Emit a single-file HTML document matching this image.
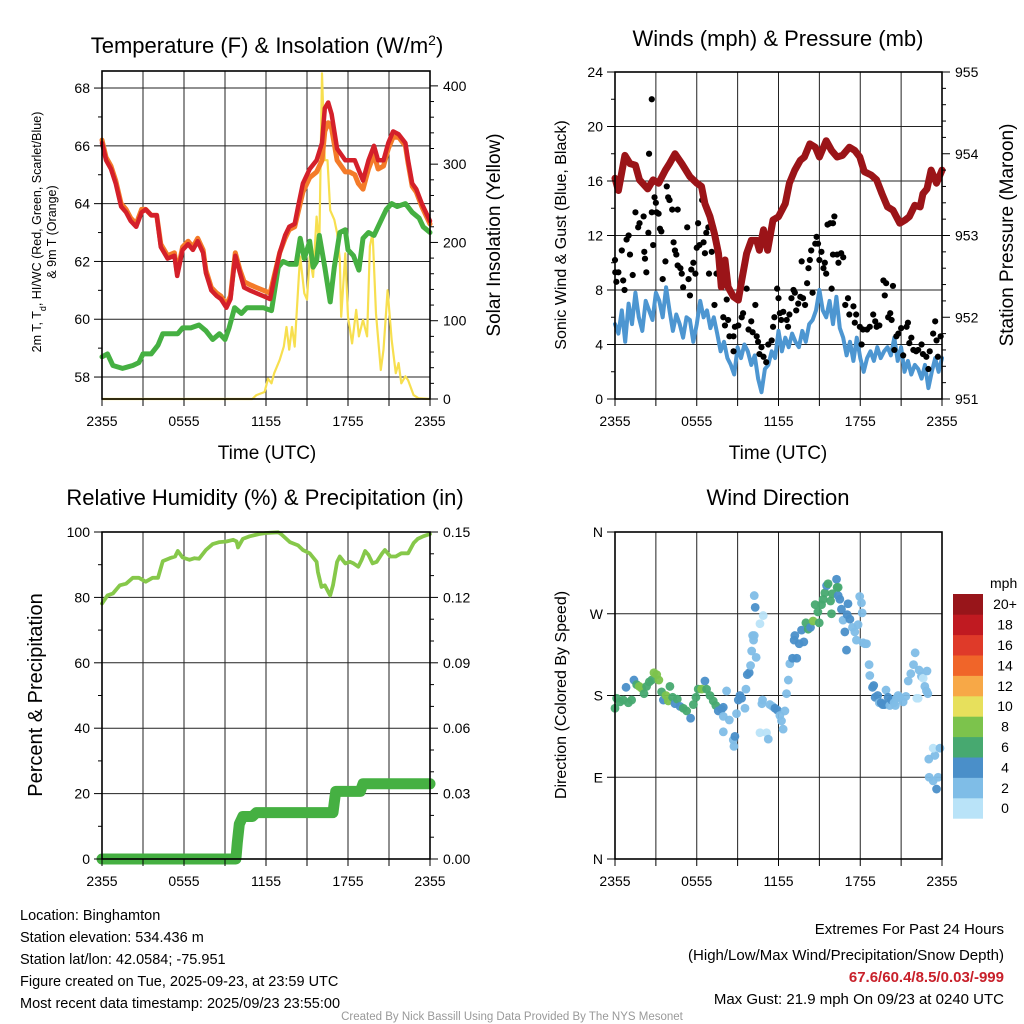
<!DOCTYPE html>
<html><head><meta charset="utf-8">
<style>
html,body{margin:0;padding:0;background:#fff;}
svg{display:block;font-family:"Liberation Sans",sans-serif;}
</style></head>
<body>
<svg id="chart" width="1024" height="1024" viewBox="0 0 1024 1024" xmlns="http://www.w3.org/2000/svg">
<rect x="0" y="0" width="1024" height="1024" fill="#fff"/>
<g id="layer-grid"></g>
<g id="layer-data"></g>
<g id="layer-axes"></g>
<text x="267" y="53" font-size="22" text-anchor="middle">Temperature (F) &amp; Insolation (W/m<tspan baseline-shift="super" font-size="14">2</tspan>)</text>
<text x="778" y="46" font-size="22" text-anchor="middle">Winds (mph) &amp; Pressure (mb)</text>
<text x="265" y="505" font-size="22" text-anchor="middle">Relative Humidity (%) &amp; Precipitation (in)</text>
<text x="778" y="505" font-size="22" text-anchor="middle">Wind Direction</text>
<text x="267" y="459" font-size="19" text-anchor="middle">Time (UTC)</text>
<text x="778" y="459" font-size="19" text-anchor="middle">Time (UTC)</text>
<text font-size="12.5" text-anchor="middle" transform="translate(41,232) rotate(-90)">2m T, T<tspan baseline-shift="sub" font-size="9">d</tspan>, HI/WC (Red, Green, Scarlet/Blue)</text>
<text font-size="12.5" text-anchor="middle" transform="translate(56,232) rotate(-90)">&amp; 9m T (Orange)</text>
<text font-size="19" text-anchor="middle" transform="translate(500,235) rotate(-90)">Solar Insolation (Yellow)</text>
<text font-size="16" text-anchor="middle" transform="translate(566,235) rotate(-90)">Sonic Wind &amp; Gust (Blue, Black)</text>
<text font-size="19" text-anchor="middle" transform="translate(1013,235) rotate(-90)">Station Pressure (Maroon)</text>
<text font-size="20" text-anchor="middle" transform="translate(42,695) rotate(-90)">Percent &amp; Precipitation</text>
<text font-size="16" text-anchor="middle" transform="translate(566,695) rotate(-90)">Direction (Colored By Speed)</text>
<text x="990" y="588" font-size="14" >mph</text>
<g font-size="14.5">
<text x="20" y="920">Location: Binghamton</text>
<text x="20" y="942">Station elevation: 534.436 m</text>
<text x="20" y="964">Station lat/lon: 42.0584; -75.951</text>
<text x="20" y="986">Figure created on Tue, 2025-09-23, at 23:59 UTC</text>
<text x="20" y="1008">Most recent data timestamp: 2025/09/23 23:55:00</text>
</g>
<g font-size="15" text-anchor="end">
<text x="1004" y="934">Extremes For Past 24 Hours</text>
<text x="1004" y="960">(High/Low/Max Wind/Precipitation/Snow Depth)</text>
<text x="1004" y="982" fill="#c8202a" font-weight="bold">67.6/60.4/8.5/0.03/-999</text>
<text x="1004" y="1004">Max Gust: 21.9 mph On 09/23 at 0240 UTC</text>
</g>
<text x="512" y="1020" font-size="11.5" fill="#999" text-anchor="middle">Created By Nick Bassill Using Data Provided By The NYS Mesonet</text>
</svg>
<script>
// ---------------- data ----------------
const timeTickLabels = ["2355","0555","1155","1755","2355"];
const tempTicks = [58,60,62,64,66,68];
const solarTicks = [0,100,200,300,400];
const windTicks = [0,4,8,12,16,20,24];
const pressureTicks = [951,952,953,954,955];
const rhTicks = [0,20,40,60,80,100];
const precipTicks = [0,0.03,0.06,0.09,0.12,0.15];
const dirTickLabels = ["N","E","S","W","N"];
const dirTicks = [0,90,180,270,360];
const colorbarLabels = ["0","2","4","6","8","10","12","14","16","18","20+"];
const colorbarColors = ["#b9e3f8","#7fbde7","#4a8fc9","#47a970","#7cc34c","#e7e05c","#f7a847","#f06529","#df3a29","#c01a21","#98151a"];

const tempT = [0,0.3,0.66,1.0,1.4,1.76,2.1,2.5,2.9,3.2,3.6,4.0,4.3,4.8,5.3,5.5,5.9,6.3,6.65,7.0,7.4,7.6,8.0,8.4,8.7,9.1,9.4,9.75,10.1,10.4,10.8,11.3,11.8,12.3,12.6,13.0,13.4,13.7,14.1,14.35,14.7,15.2,15.7,16.1,16.3,16.55,16.8,17.2,17.5,17.8,18.1,18.5,18.75,19.1,19.5,19.9,20.2,20.6,20.95,21.3,21.7,22.2,22.4,22.7,23.0,23.4,24];
const tempRed = [66.1,65.5,65.2,64.7,63.9,63.7,63.4,63.2,63.7,63.8,63.6,63.6,62.5,62.1,62.2,61.5,62.4,62.6,62.4,62.7,62.3,61.6,61.0,60.8,60.7,60.4,60.7,62.2,61.6,61.1,61.0,60.9,60.8,60.7,61.4,62.3,62.9,63.2,63.3,63.9,64.7,65.2,65.5,66.1,67.3,67.5,67.1,65.9,65.7,65.5,65.5,65.5,65.2,64.8,65.5,66.0,65.5,65.5,66.1,66.5,66.4,66.1,65.5,64.7,64.5,64.0,63.4];
const tempOrange = [66.2,65.6,65.3,64.8,64.0,63.8,63.5,63.3,63.8,63.8,63.6,63.6,62.6,62.2,62.3,61.6,62.5,62.7,62.5,62.8,62.4,61.7,61.1,60.9,60.8,60.5,60.8,62.3,61.7,61.3,61.2,61.1,61.0,60.9,61.5,62.3,62.8,63.1,63.2,63.7,64.4,64.9,65.1,65.5,66.5,66.8,66.6,65.5,65.3,65.1,65.1,65.0,64.7,64.5,65.2,65.7,65.2,65.3,65.9,66.3,66.3,66.0,65.4,64.6,64.4,63.9,63.3];
const dewT = [0,0.4,0.8,1.5,2.25,2.7,3.0,3.6,4.1,4.45,5.1,5.55,5.9,6.5,7.1,7.6,8.1,8.6,9.0,9.3,9.7,10.2,10.6,11.3,11.8,12.4,12.9,13.25,13.7,14.2,14.5,14.8,15.2,15.45,15.7,15.9,16.3,16.7,17.0,17.4,17.8,18.0,18.4,18.8,19.1,19.5,19.9,20.3,20.8,21.2,21.6,22.2,22.7,23.2,23.5,24];
const dewV = [58.7,58.8,58.4,58.3,58.4,58.5,58.8,58.8,59.1,59.5,59.5,59.5,59.7,59.7,59.8,59.6,59.3,59.5,59.3,59.7,60.4,60.2,60.4,60.4,60.4,60.3,61.8,62.0,61.9,61.9,62.8,62.1,62.7,61.8,62.0,62.9,61.8,60.6,61.8,63.0,63.1,62.4,62.2,61.7,62.8,63.0,62.9,63.3,63.8,64.0,63.9,64.0,63.7,63.5,63.2,63.0];
const solarT = [0,11.0,11.3,11.9,12.15,12.4,12.6,13.0,13.3,13.5,13.7,13.9,14.1,14.4,14.5,14.8,15.0,15.2,15.45,15.7,15.9,16.1,16.3,16.5,16.7,17.0,17.2,17.4,17.5,17.8,18.0,18.3,18.6,18.8,19.1,19.4,19.6,19.8,20.05,20.4,20.6,20.9,21.2,21.5,21.7,21.9,22.2,22.4,22.8,23.15,24];
const solarV = [0,0,5,9,26,20,33,50,67,92,63,92,67,156,182,135,127,182,156,233,195,416,305,305,241,229,212,178,105,186,105,71,114,80,101,80,195,212,109,37,63,139,75,33,46,20,29,24,5,1,0];

const presT = [0,0.25,0.73,1.1,1.5,1.8,2.4,2.8,3.2,3.7,4.0,4.4,4.9,5.5,6.0,6.35,6.6,6.97,7.3,7.6,7.8,8.07,8.3,8.7,9.05,9.3,9.66,10.0,10.4,10.6,10.9,11.2,11.6,12.0,12.5,12.8,13.2,13.6,13.9,14.3,14.7,15.0,15.5,15.9,16.3,16.7,17.2,17.6,17.97,18.3,18.8,19.2,19.6,20.0,20.4,20.9,21.3,21.6,22.0,22.4,22.6,22.9,23.2,23.6,24];
const presV = [953.70,953.55,953.98,953.88,953.86,953.68,953.57,953.68,953.64,953.80,953.88,954.00,953.88,953.72,953.64,953.60,953.39,953.23,953.02,952.78,952.37,952.70,952.37,952.25,952.21,952.45,952.78,952.94,952.94,952.82,953.07,952.82,953.19,953.23,953.39,953.64,953.80,953.92,953.96,954.12,954.08,953.96,954.16,954.04,953.96,953.98,954.08,954.04,953.96,953.78,953.74,953.68,953.51,953.35,953.31,953.15,953.19,953.23,953.37,953.35,953.51,953.57,953.80,953.64,953.80];
const windV = [5.5,4.8,6.5,4.2,7.0,5.5,7.8,6.0,5.0,7.2,6.5,5.8,7.8,7.2,6.0,8.2,6.5,5.0,6.2,5.5,4.5,6.0,5.8,4.2,5.5,7.2,6.0,6.5,5.2,6.0,4.8,3.5,4.2,3.0,2.5,1.8,3.8,3.0,4.0,3.5,2.5,3.2,1.5,0.5,2.2,2.5,3.5,3.0,5.0,3.5,4.5,3.8,4.8,4.2,3.8,5.0,4.2,5.5,5.8,6.5,8.0,6.5,6.0,7.2,5.5,7.5,5.2,4.5,3.2,4.2,2.8,4.5,3.0,2.0,3.0,3.5,2.8,3.8,3.0,3.5,3.8,3.2,4.5,2.8,3.8,2.0,2.8,1.8,2.5,2.2,1.5,2.5,0.8,2.0,3.0,2.0,3.0];
const gustT = [0,0.02,0.25,0.1,0.5,0.6,0.7,0.85,1.0,1.1,1.3,1.5,1.7,1.8,2.1,2.15,2.2,2.3,2.45,2.5,2.7,2.7,2.8,2.9,3.0,3.05,3.2,3.3,3.4,3.7,3.5,3.8,3.9,4.0,4.2,4.3,4.4,4.5,4.6,4.6,4.8,4.9,5.0,5.3,5.4,5.5,5.6,5.75,5.9,6.0,6.1,6.2,6.4,6.5,6.6,6.7,6.85,6.9,7.1,7.2,7.3,7.45,7.6,7.8,7.95,8.07,8.2,8.3,8.4,8.7,8.8,8.7,9.05,9.2,9.3,9.4,9.66,9.8,10.0,10.1,10.3,10.4,10.5,10.6,10.75,10.9,11.1,11.25,11.5,11.6,11.7,11.9,12.0,12.1,12.2,12.35,12.6,12.7,12.8,12.95,13.1,13.2,13.3,13.45,13.6,13.7,13.8,13.95,14.1,14.2,14.3,14.4,14.5,14.7,14.8,14.9,15.0,15.15,15.3,15.4,15.5,15.6,15.8,16.0,16.1,15.9,16.0,16.3,16.4,16.6,16.75,16.9,17.1,17.2,17.5,17.6,17.7,17.97,18.1,18.2,18.5,18.7,18.95,19.1,19.2,19.4,19.7,19.8,19.9,20.05,20.2,20.3,20.4,20.5,20.65,20.8,21.0,21.15,21.4,21.5,21.6,21.75,21.9,22.1,22.25,22.5,22.6,22.85,23.0,23.1,23.35,23.5,23.6,23.7,23.9];
const gustV = [10.2,9.3,9.3,8.6,10.9,8.7,8.0,11.7,12.0,10.6,9.1,13.7,12.6,12.9,13.4,10.8,10.3,9.3,12.2,18.0,22.0,13.7,11.3,14.8,14.4,13.7,13.6,12.5,12.3,10.1,8.8,15.6,14.8,14.6,13.9,11.5,10.9,10.6,13.9,9.8,9.6,9.2,8.2,12.6,8.8,7.6,9.5,10.0,9.2,11.1,12.9,11.3,14.6,11.5,10.7,12.2,12.6,9.2,10.8,12.6,6.9,9.2,10.4,8.2,6.0,5.4,7.3,5.8,4.6,4.6,5.3,3.5,5.4,8.0,6.0,6.3,8.1,5.1,5.7,4.9,6.9,4.6,4.2,3.3,3.8,3.1,2.7,4.0,4.3,5.3,6.0,8.1,7.4,6.3,5.8,6.4,5.8,5.3,6.2,7.4,8.0,7.8,6.5,7.0,7.5,10.1,7.4,6.9,8.5,9.6,10.2,10.9,7.8,11.4,11.9,11.4,10.2,10.8,9.6,10.0,9.2,12.8,12.9,12.9,13.4,8.1,10.6,10.6,10.0,10.7,10.4,6.9,7.4,6.2,6.8,5.6,6.2,5.3,4.0,5.1,5.1,5.3,6.2,5.7,5.3,5.4,8.7,7.6,8.5,6.0,6.3,5.8,8.3,3.6,4.6,4.8,5.2,3.2,5.3,5.6,4.1,4.5,3.6,3.5,3.6,4.0,3.3,3.1,2.2,3.5,4.8,5.7,4.3,3.1,4.6];

const rhT = [0,0.4,0.8,1.3,1.76,2.25,2.7,3.2,3.7,4.1,4.45,4.96,5.35,5.55,5.9,6.4,6.77,7.1,7.6,8.1,8.6,9.1,9.6,9.85,9.95,10.3,10.8,11.5,12.0,12.9,13.1,13.75,14.35,14.7,15.2,15.7,15.8,16.06,16.3,16.55,16.7,16.9,17.2,17.4,17.8,18.15,18.4,18.75,19.0,19.25,19.5,19.8,20.1,20.5,20.7,21.1,21.5,21.9,22.4,22.8,23.1,23.5,24];
const rhV = [78.1,80.6,81.2,83.7,84.2,86.0,86.0,84.8,86.0,86.0,91.1,92.0,92.5,94.2,92.2,91.5,92.0,91.8,94.5,96.3,96.9,97.1,97.6,97.1,95.3,97.9,98.7,99.4,99.7,99.9,99.4,96.9,95.9,94.5,93.5,90.9,87.8,83.2,83.7,81.7,80.6,83.7,90.9,92.5,90.4,90.9,90.4,89.4,91.5,94.2,93.0,90.4,90.9,93.5,94.5,92.5,92.5,93.5,93.5,96.6,97.9,98.7,99.4];
const precipT = [0,9.8,9.9,10.05,10.3,11.0,11.3,16.9,17.0,17.1,18.9,19.1,24];
const precipV = [0,0,0.0075,0.016,0.0195,0.0195,0.0213,0.0213,0.026,0.031,0.031,0.0345,0.0345];

const dirT = [0,0.12,0.37,0.61,0.81,0.98,1.22,1.39,1.59,1.78,1.96,2.13,2.32,2.52,2.69,2.86,3.06,3.22,3.42,3.55,3.74,3.91,4.03,4.23,4.4,4.57,4.77,5.01,5.26,5.55,5.75,5.94,6.11,6.36,6.6,6.72,6.97,7.21,7.4,7.58,7.82,7.95,7.95,8.19,8.39,7.95,8.68,8.8,8.73,8.92,9.05,9.17,9.29,9.54,9.61,9.71,9.85,9.95,10.03,10.1,10.17,10.22,10.36,10.22,10.29,10.64,10.88,10.83,10.78,10.64,11.12,11.25,11.37,11.56,11.74,11.91,12.1,12.22,12.34,12.47,12.59,12.72,12.83,13.03,13.15,13.2,13.34,13.52,13.69,13.86,14.01,14.18,14.35,14.54,14.69,14.89,14.99,15.16,15.28,15.4,15.53,15.64,15.82,15.89,15.94,16.26,16.3,16.38,16.38,16.5,16.62,16.74,16.87,16.99,17.1,17.04,17.24,17.43,17.6,17.72,17.84,17.96,18.09,18.14,18.21,18.34,18.46,18.65,18.7,18.9,18.99,19.09,19.28,19.4,19.53,19.65,19.77,19.89,20.04,20.17,20.29,20.48,20.58,20.66,20.78,20.9,21.15,21.35,21.52,21.71,21.91,22.03,22.15,22.25,22.32,22.49,22.62,22.74,22.86,22.9,22.96,23.03,23.35,23.48,23.06,23.35,23.6,23.72,23.85];
const dirDeg = [166,177,173,175,189,172,175,197,192,190,188,182,190,195,197,205,203,197,184,175,180,174,190,178,171,176,168,166,163,155,170,178,187,187,196,187,180,174,169,163,165,167,157,185,153,140,131,135,124,160,175,180,177,166,187,203,205,213,229,246,241,246,222,290,277,259,268,175,171,139,139,132,170,168,166,164,158,152,143,163,182,197,215,221,241,246,221,237,252,239,260,253,255,262,280,272,260,280,286,293,301,303,284,270,292,308,299,290,299,286,275,263,250,230,281,269,264,255,250,241,258,289,282,271,238,237,237,214,202,189,191,178,180,172,172,170,170,186,178,169,175,172,169,177,180,178,173,179,196,204,214,227,177,177,208,201,199,190,185,207,182,110,86,114,90,122,77,90,122,310,28,72,67,59,41];
const dirSpeed = [6.5,6.5,6.5,6.5,4.5,6.5,6.5,4.5,6.5,8.5,8.5,6.5,6.5,6.5,6.5,8.5,8.5,8.5,6.5,4.5,8.5,8.5,6.5,6.5,4.5,6.5,4.5,6.5,6.5,4.5,6.5,6.5,6.5,8.5,4.5,6.5,6.5,6.5,6.5,4.5,4.5,4.5,2.5,2.5,2.5,2.5,2.5,4.5,2.5,2.5,4.5,4.5,4.5,2.5,2.5,4.5,4.5,2.5,2.5,2.5,2.5,2.5,2.5,2.5,4.5,0.5,0.5,2.5,2.5,0.5,0.5,2.5,2.5,2.5,4.5,4.5,2.5,2.5,2.5,2.5,2.5,2.5,2.5,4.5,4.5,4.5,4.5,4.5,4.5,4.5,6.5,6.5,4.5,8.5,6.5,6.5,6.5,6.5,6.5,6.5,4.5,6.5,6.5,6.5,6.5,4.5,6.5,4.5,6.5,4.5,4.5,2.5,4.5,4.5,4.5,4.5,4.5,2.5,2.5,2.5,2.5,2.5,2.5,2.5,2.5,2.5,2.5,2.5,2.5,4.5,4.5,4.5,4.5,2.5,4.5,4.5,4.5,2.5,4.5,2.5,4.5,2.5,2.5,2.5,2.5,2.5,2.5,2.5,2.5,2.5,2.5,2.5,0.5,0.5,2.5,2.5,0.5,2.5,2.5,2.5,2.5,2.5,2.5,2.5,2.5,0.5,4.5,2.5,2.5,4.5];

// ---------------- helpers ----------------
const NS = "http://www.w3.org/2000/svg";
const gGrid = document.getElementById('layer-grid');
const gData = document.getElementById('layer-data');
const gAxes = document.getElementById('layer-axes');
function mk(tag, attrs, parent){
  const el = document.createElementNS(NS, tag);
  for (const k in attrs) el.setAttribute(k, attrs[k]);
  parent.appendChild(el);
  return el;
}
const P1 = {x0:102,x1:430,y0:71,y1:399,lmin:57.24,lmax:68.59,rmin:0,rmax:419};
const P2 = {x0:615,x1:942,y0:72,y1:399,lmin:0,lmax:24,rmin:951,rmax:955};
const P3 = {x0:102,x1:430,y0:532,y1:859,lmin:0,lmax:100,rmin:0,rmax:0.15};
const P4 = {x0:615,x1:942,y0:532,y1:859,lmin:0,lmax:360,rmin:0,rmax:360};
function xS(p,t){ return p.x0 + t/24*(p.x1-p.x0); }
function yL(p,v){ return p.y1 - (v-p.lmin)/(p.lmax-p.lmin)*(p.y1-p.y0); }
function yR(p,v){ return p.y1 - (v-p.rmin)/(p.rmax-p.rmin)*(p.y1-p.y0); }
function pathOf(p, ts, vs, yf){
  let d = "";
  for (let i=0;i<ts.length;i++){ d += (i?"L":"M") + xS(p,ts[i]).toFixed(1) + "," + yf(p,vs[i]).toFixed(1); }
  return d;
}

function drawFrame(p, name, leftTicks, leftLabels, leftMinorStep, rightTicks, rightLabels, rightMinorStep, hasRight){
  for (let h=3; h<24; h+=3){
    const x = xS(p,h);
    const l = mk('line',{x1:x,y1:p.y0,x2:x,y2:p.y1,stroke:'#222','stroke-width':1},gGrid);
    
    
  }
  leftTicks.forEach(v=>{
    const y = yL(p,v);
    const l = mk('line',{x1:p.x0,y1:y,x2:p.x1,y2:y,stroke:'#222','stroke-width':1},gGrid);
    
    
  });
  const fr = mk('rect',{x:p.x0,y:p.y0,width:p.x1-p.x0,height:p.y1-p.y0,fill:'none',stroke:'#000','stroke-width':1.6},gAxes);
  
  
  for (let h=0; h<=24; h+=3){
    const x = xS(p,h);
    const t = mk('line',{x1:x,y1:p.y1,x2:x,y2:p.y1+7,stroke:'#000','stroke-width':1},gAxes);
    
    
  }
  timeTickLabels.forEach((lab,i)=>{
    const x = xS(p,i*6);
    const tx = mk('text',{x:x,y:p.y1+27,'font-size':14,'text-anchor':'middle'},gAxes);
    tx.textContent = lab;
    
    
  });
  leftTicks.forEach((v,i)=>{
    const y = yL(p,v);
    const t = mk('line',{x1:p.x0-8,y1:y,x2:p.x0,y2:y,stroke:'#000','stroke-width':1},gAxes);
    
    
    const tx = mk('text',{x:p.x0-12,y:y+5,'font-size':14,'text-anchor':'end'},gAxes);
    tx.textContent = leftLabels[i];
    
    
  });
  if (leftMinorStep){
    for (let v=leftTicks[0]; v<leftTicks[leftTicks.length-1]; v+=leftMinorStep){
      const y = yL(p,v+leftMinorStep);
      if (leftTicks.some(t=>Math.abs(t-(v+leftMinorStep))<1e-6)) continue;
      const t = mk('line',{x1:p.x0-4,y1:y,x2:p.x0,y2:y,stroke:'#000','stroke-width':1},gAxes);
      
      
    }
  }
  if (hasRight){
    rightTicks.forEach((v,i)=>{
      const y = yR(p,v);
      const t = mk('line',{x1:p.x1,y1:y,x2:p.x1+8,y2:y,stroke:'#000','stroke-width':1},gAxes);
      
      
      const tx = mk('text',{x:p.x1+13,y:y+5,'font-size':14,'text-anchor':'start'},gAxes);
      tx.textContent = rightLabels[i];
      
      
    });
    for (let v=rightTicks[0]+rightMinorStep; v<rightTicks[rightTicks.length-1]-1e-9; v+=rightMinorStep){
      if (rightTicks.some(t=>Math.abs(t-v)<1e-6)) continue;
      const y = yR(p,v);
      const t = mk('line',{x1:p.x1,y1:y,x2:p.x1+4,y2:y,stroke:'#000','stroke-width':1},gAxes);
      
      
    }
  }
}

drawFrame(P1,'temp-panel',tempTicks,tempTicks.map(String),1,solarTicks,solarTicks.map(String),20,true);
drawFrame(P2,'wind-panel',windTicks,windTicks.map(String),2,pressureTicks,pressureTicks.map(String),0.2,true);
drawFrame(P3,'rh-panel',rhTicks,rhTicks.map(String),10,precipTicks,precipTicks.map(v=>v.toFixed(2)),0.01,true);
drawFrame(P4,'direction-panel',dirTicks,dirTickLabels,0,[],[],0,false);

// ---------- panel 1 ----------
let el;
el = mk('path',{d:pathOf(P1,solarT,solarV,yR),fill:'none',stroke:'#f7df4f','stroke-width':2.2,'stroke-linejoin':'round'},gData);


el = mk('path',{d:pathOf(P1,dewT,dewV,yL),fill:'none',stroke:'#45b042','stroke-width':5,'stroke-linejoin':'round','stroke-linecap':'round'},gData);


el = mk('path',{d:pathOf(P1,tempT,tempOrange,yL),fill:'none',stroke:'#f47b29','stroke-width':5,'stroke-linejoin':'round','stroke-linecap':'round'},gData);


el = mk('path',{d:pathOf(P1,tempT,tempRed,yL),fill:'none',stroke:'#d4202a','stroke-width':4.5,'stroke-linejoin':'round','stroke-linecap':'round'},gData);



// ---------- panel 2 ----------
const windT = windV.map((v,i)=>i*0.25);
el = mk('path',{d:pathOf(P2,windT,windV,yL),fill:'none',stroke:'#4d96d1','stroke-width':4,'stroke-linejoin':'round','stroke-linecap':'round'},gData);


gustT.forEach((t,i)=>{
  const c = mk('circle',{cx:xS(P2,t),cy:yL(P2,gustV[i]),r:3.1,fill:'#000'},gData);
  
  
});
el = mk('path',{d:pathOf(P2,presT,presV,yR),fill:'none',stroke:'#9b1418','stroke-width':7,'stroke-linejoin':'round','stroke-linecap':'round'},gData);



// ---------- panel 3 ----------
el = mk('path',{d:pathOf(P3,rhT,rhV,yL),fill:'none',stroke:'#86c84a','stroke-width':3.8,'stroke-linejoin':'round','stroke-linecap':'round'},gData);


el = mk('path',{d:pathOf(P3,precipT,precipV,yR),fill:'none',stroke:'#45b042','stroke-width':11,'stroke-linejoin':'round','stroke-linecap':'round'},gData);



// ---------- panel 4 ----------
function speedColor(s){ const i = Math.min(10, Math.max(0, Math.floor(s/2))); return colorbarColors[i]; }
dirT.forEach((t,i)=>{
  const c = mk('circle',{cx:xS(P4,t),cy:yL(P4,dirDeg[i]),r:4.4,fill:speedColor(dirSpeed[i]),'fill-opacity':0.95},gData);
  
  
});
const cbX = 953, cbW = 30, cbTop = 594, cbH = 20.4;
colorbarColors.forEach((col,i)=>{
  const y = cbTop + (10-i)*cbH;
  const r = mk('rect',{x:cbX,y:y,width:cbW,height:cbH+0.3,fill:col},gAxes);
  
  
  const tx = mk('text',{x:1005,y:y+cbH/2+5,'font-size':14,'text-anchor':'middle'},gAxes);
  tx.textContent = colorbarLabels[i];
  
  
});
</script>
</body></html>
